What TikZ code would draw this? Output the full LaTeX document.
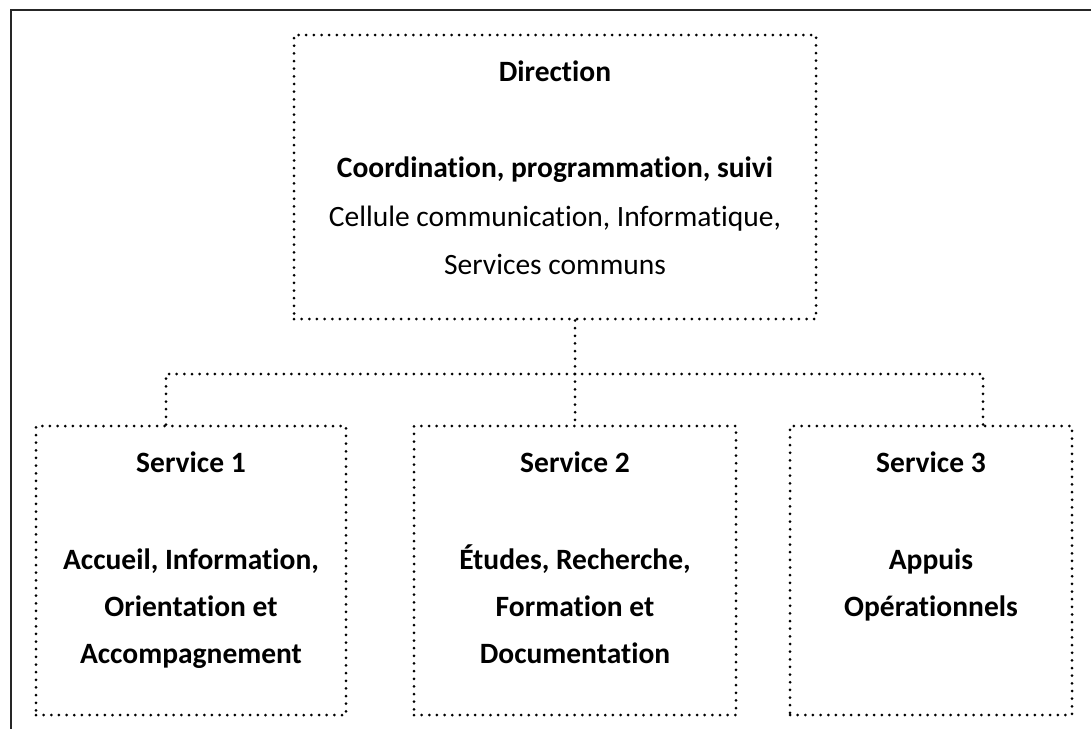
\documentclass[tikz,border=0pt]{standalone}
\usepackage{fontspec}
\setmainfont[Ligatures=NoCommon]{Carlito}
\begin{document}
\begin{tikzpicture}[x=1pt,y=-1pt,
  dotbox/.style={draw, line width=3pt, dash pattern=on 0pt off 7.65pt, line cap=round, inner sep=0pt},
  dotline/.style={line width=3pt, dash pattern=on 0pt off 7.65pt, line cap=round},
  lbl/.style={font=\fontsize{29.5}{35}\selectfont, inner sep=0pt, anchor=base},
  blbl/.style={lbl, font=\fontsize{29.5}{35}\selectfont\bfseries},
]
\useasboundingbox (0,0) rectangle (1091,728);
\clip (0,0) rectangle (1091,728);
\draw[line width=2.8pt, black!85] (11,10) rectangle (1120,760);

% boxes
\node[dotbox, minimum width=522pt, minimum height=284pt] (dir) at (555,177) {};
\node[dotbox, minimum width=310pt, minimum height=289pt] (s1) at (191,570.5) {};
\node[dotbox, minimum width=322pt, minimum height=289pt] (s2) at (575,570.5) {};
\node[dotbox, minimum width=282pt, minimum height=289pt] (s3) at (931,570.5) {};

% texts
\node[blbl] (t1) at (555,81) {Direction};
\node[blbl] (t2) at (555,177) {Coordination, programmation, suivi};
\node[lbl] (t3) at (555,226) {Cellule communication, Informatique,};
\node[lbl] (t4) at (555,274) {Services communs};

\node[blbl] (a1) at (191,472) {Service 1};
\node[blbl] (a2) at (191,569) {Accueil, Information,};
\node[blbl] (a3) at (191,616) {Orientation et};
\node[blbl] (a4) at (191,663) {Accompagnement};

\node[blbl] (b1) at (575,472) {Service 2};
\node[blbl] (b2) at (575,569) {Études, Recherche,};
\node[blbl] (b3) at (575,616) {Formation et};
\node[blbl] (b4) at (575,663) {Documentation};

\node[blbl] (c1) at (931,472) {Service 3};
\node[blbl] (c2) at (931,569) {Appuis};
\node[blbl] (c3) at (931,616) {Opérationnels};

% connectors
\coordinate (busL) at (166,374);
\coordinate (busM) at (575,374);
\coordinate (busR) at (983,374);
\draw[dotline] (dir.south -| busM) -- (busM);
\draw[dotline] (busM) -- (s2.north);
\draw[dotline] (s1.north -| busL) -- (busL) -- (busR) -- (s3.north -| busR);
\end{tikzpicture}
\end{document}
